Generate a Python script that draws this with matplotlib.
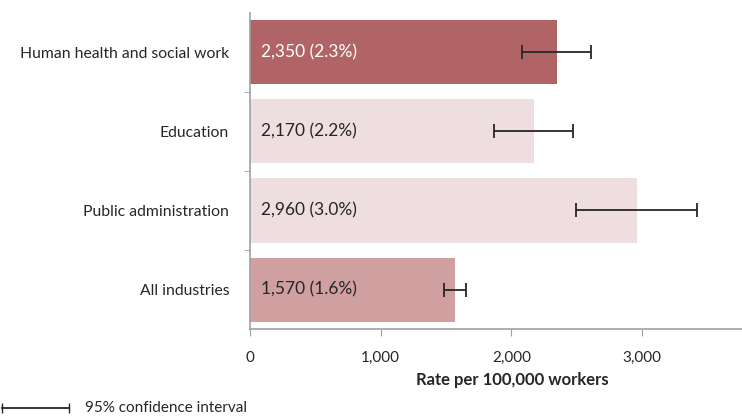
""" Rate per 100,000 workers by industry, with 95% confidence intervals """

import matplotlib
matplotlib.use('Agg')
import matplotlib.pyplot as plt
from matplotlib.lines import Line2D

plt.rcParams['font.family'] = ['Lato', 'DejaVu Sans']

# Data
industries = ['Human health and social work', 'Education',
              'Public administration', 'All industries']
rates = [2350, 2170, 2960, 1570]
percents = [2.3, 2.2, 3.0, 1.6]
ci_low = [2083, 1870, 2494, 1482]
ci_high = [2613, 2469, 3418, 1655]
bar_colors = ['#B06465', '#EFDEDF', '#EFDEDF', '#D09FA0']
label_colors = ['white', '#262626', '#262626', '#262626']
x_ticks = [0, 1000, 2000, 3000]

fig = plt.figure(figsize=(7.42, 4.16), dpi=100)
ax = fig.add_axes([0.337, 0.209, 0.663, 0.760])

pos = list(range(len(industries)))
ax.barh(pos, rates, height=0.81, color=bar_colors)

err_lo = [r - lo for r, lo in zip(rates, ci_low)]
err_hi = [hi - r for r, hi in zip(rates, ci_high)]
ax.errorbar(rates, pos, xerr=[err_lo, err_hi], fmt='none',
            ecolor='#262626', elinewidth=1.3, capsize=5, capthick=1.3)

for p, r, pc, c in zip(pos, rates, percents, label_colors):
    ax.text(80, p, f'{r:,} ({pc:.1f}%)', va='center', ha='left',
            fontsize=12.5, color=c)

ax.set_ylim(len(industries) - 0.5, -0.5)
ax.set_xlim(0, 3765)
ax.set_yticks(pos)
ax.set_yticklabels(industries, fontsize=11.3, color='#262626')
ax.set_yticks([0.5, 1.5, 2.5], minor=True)
ax.tick_params(axis='y', which='major', length=0, pad=15)
ax.tick_params(axis='y', which='minor', length=4, color='#A0A0A0', direction='out')

ax.set_xticks(x_ticks)
ax.set_xticklabels([f'{t:,}' for t in x_ticks], fontsize=11, color='#262626')
ax.tick_params(axis='x', length=5, color='#A0A0A0', pad=11)
ax.set_xlabel('Rate per 100,000 workers', fontsize=12, fontweight='bold',
              color='#262626')
ax.xaxis.set_label_coords(0.533, -0.135)

for s in ['top', 'right']:
    ax.spines[s].set_visible(False)
for s in ['left', 'bottom']:
    ax.spines[s].set_color('#A0A0A0')
    ax.spines[s].set_linewidth(1.2)

# legend for the confidence interval
leg_y = 0.02
fig.add_artist(Line2D([0.003, 0.093], [leg_y, leg_y], color='#262626', lw=1.3,
                      marker='|', ms=7, transform=fig.transFigure))
fig.text(0.115, leg_y, '95% confidence interval', fontsize=11,
         color='#262626', va='center', ha='left')

fig.savefig('out.png', dpi=100)
